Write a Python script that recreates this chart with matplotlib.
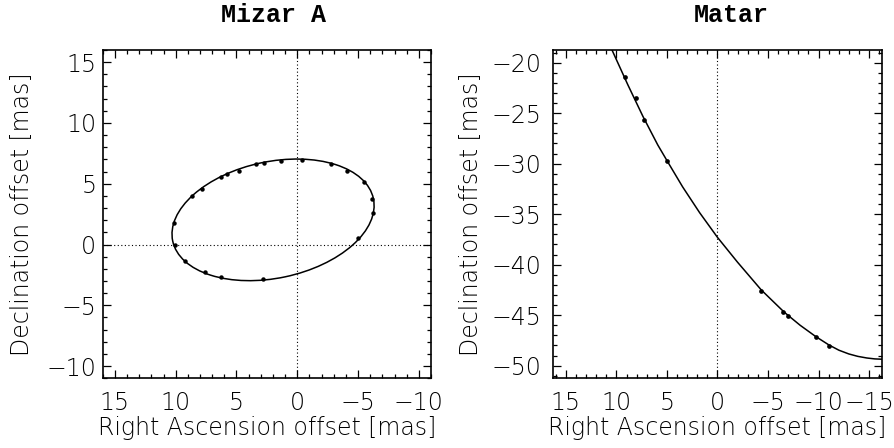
import numpy as np
import matplotlib
matplotlib.use("Agg")
import matplotlib.pyplot as plt
from matplotlib.patches import Ellipse
from matplotlib.ticker import MultipleLocator

# Mizar A: measured positions (RA offset, Dec offset) in mas
mizar_ra = [10.14, 10.08, 9.2, 7.56, 6.3, 2.81, 8.66, 7.8, 6.3, 5.74, 4.81,
            3.42, 2.73, 1.36, -0.4, -2.81, -4.1, -5.47, -6.16, -6.24, -5.0]
mizar_dec = [1.79, -0.04, -1.33, -2.26, -2.65, -2.84, 3.99, 4.56, 5.52, 5.77,
             6.07, 6.62, 6.68, 6.89, 6.97, 6.62, 6.07, 5.11, 3.72, 2.62, 0.51]
# fitted orbit (apparent ellipse): centre, full axes, tilt in degrees
mizar_orbit_center = (1.99, 2.03)
mizar_orbit_axes = (16.87, 9.58)
mizar_orbit_angle = -11.95

# Matar: measured positions
matar_ra = [9.13, 8.08, 7.26, 5.02, -4.33, -6.47, -6.96, -9.75, -11.06]
matar_dec = [-21.45, -23.53, -25.68, -29.74, -42.6, -44.65, -45.08, -47.13, -48.02]
# fitted orbit arc
matar_fit_ra = [10.84, 10.44, 8.87, 7.39, 5.91, 4.97, 3.45, 1.77, 0.0, -1.97,
                -4.33, -6.6, -8.18, -9.7, -11.03, -12.02, -13.0, -13.89,
                -14.78, -15.56, -16.25, -16.8]
matar_fit_dec = [-17.85, -18.75, -22.2, -25.3, -28.15, -29.75, -32.3, -34.85,
                 -37.3, -39.74, -42.5, -44.7, -46.0, -47.1, -47.95, -48.47,
                 -48.84, -49.08, -49.24, -49.33, -49.36, -49.37]

plt.rcParams["font.family"] = ["DejaVu Sans"]
plt.rcParams["font.weight"] = "light"
plt.rcParams["axes.labelweight"] = "light"

fig = plt.figure(figsize=(8.94, 4.48), dpi=100)
ax1 = fig.add_axes([0.1149, 0.1556, 0.3672, 0.7328])
ax2 = fig.add_axes([0.6189, 0.1556, 0.3673, 0.7328])


def style(ax, title, tx, ypad, ylabpad):
    for s in ax.spines.values():
        s.set_linewidth(1.2)
    ax.xaxis.set_major_locator(MultipleLocator(5))
    ax.yaxis.set_major_locator(MultipleLocator(5))
    ax.xaxis.set_minor_locator(MultipleLocator(1))
    ax.yaxis.set_minor_locator(MultipleLocator(1))
    ax.tick_params(which="both", direction="in", top=True, right=True,
                   width=0.9, labelsize=17, color="black")
    ax.tick_params(which="major", length=5.5)
    ax.tick_params(which="minor", length=2.8)
    ax.tick_params(axis="x", which="major", pad=9)
    ax.tick_params(axis="y", which="major", pad=ypad)
    ax.set_xlabel("Right Ascension offset [mas]", fontsize=17, labelpad=1)
    ax.set_ylabel("Declination offset [mas]", fontsize=17, labelpad=ylabpad)
    ax.set_title(title, x=tx, y=1.0, pad=20, fontsize=18,
                 family="Liberation Mono", fontweight="bold")
    ax.axvline(0, color="black", lw=0.8, ls=(0, (1, 2.2)))


# Mizar A
ax1.set_xlim(16, -11)
ax1.set_ylim(-11, 16)
ax1.axhline(0, color="black", lw=0.8, ls=(0, (1, 2.2)))
ax1.add_patch(Ellipse(mizar_orbit_center, *mizar_orbit_axes,
                      angle=mizar_orbit_angle, fill=False, ec="black", lw=1.1))
ax1.plot(mizar_ra, mizar_dec, "o", color="black", ms=3.2, mew=0)
style(ax1, "Mizar A", 0.519, 4.5, 9)

# Matar
ax2.set_xlim(16.25, -16.25)
ax2.set_ylim(-51.25, -18.75)
ax2.plot(matar_fit_ra, matar_fit_dec, color="black", lw=1.1)
ax2.plot(matar_ra, matar_dec, "o", color="black", ms=3.4, mew=0)
style(ax2, "Matar", 0.543, 8.5, 6)

fig.savefig("out.png", dpi=100)
